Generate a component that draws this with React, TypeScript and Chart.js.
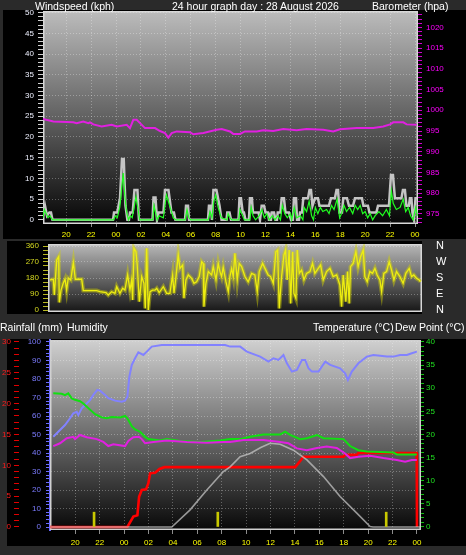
import React, { useEffect, useRef } from "react";
import { Chart, registerables } from "chart.js";

Chart.register(...registerables);

const FONT = "'Liberation Sans', Arial, sans-serif";

type Pair = [number, number];

// ---------- x axis (hours; 24 = 00:00 of the graph day, 48 = next midnight) ----------
const hourTicks = [20, 22, 24, 26, 28, 30, 32, 34, 36, 38, 40, 42, 44, 46, 48];

// ---------- top panel: wind (kph) and barometer (hpa) ----------
const gust: Pair[] = [
  [18.14, 1.0], [18.3, 3.4], [18.46, 1.0], [18.65, 1.8], [18.78, 1.8], [18.9, 0],
  [23.76, 0], [23.84, 1.8], [24.1, 1.8], [24.32, 5.2], [24.48, 14.7], [24.62, 14.7], [24.76, 3.4], [24.91, 0],
  [25.04, 0], [25.12, 1.8], [25.34, 1.8], [25.48, 7.2], [25.72, 7.2], [25.84, 0],
  [26.93, 0], [27.01, 5.4], [27.17, 5.4], [27.29, 0], [27.41, 1.8], [27.81, 1.8], [27.93, 7.2], [28.21, 7.2],
  [28.45, 1.8], [28.65, 1.8], [28.77, 0], [29.54, 0], [29.62, 3.4], [29.78, 3.4], [29.86, 0],
  [31.38, 0], [31.46, 3.4], [31.62, 3.4], [31.7, 0], [31.82, 7.2], [32.06, 7.2], [32.31, 3.4], [32.47, 0],
  [32.87, 0], [32.93, 1.8], [33.11, 1.8], [33.23, 0], [33.83, 0], [33.91, 5.2], [34.03, 5.2], [34.17, 1.8],
  [34.27, 1.8], [34.39, 0], [34.67, 0], [34.75, 5.2], [34.91, 5.2], [34.99, 1.8], [35.44, 1.8], [35.56, 0],
  [35.69, 3.4], [35.88, 3.4], [36.0, 1.8], [36.2, 1.8], [36.28, 0], [36.44, 0], [36.5, 1.8], [36.68, 1.8],
  [36.8, 0], [36.92, 0], [36.98, 1.8], [37.2, 1.8], [37.3, 5.2], [37.48, 5.2], [37.6, 1.8], [37.88, 1.8],
  [38.04, 0], [38.2, 0], [38.28, 5.2], [38.45, 5.2], [38.53, 0], [38.69, 0], [38.77, 1.8], [38.93, 1.8],
  [39.03, 5.2], [39.41, 5.2], [39.53, 7.2], [39.65, 7.2], [39.77, 3.4], [39.97, 5.2], [40.21, 5.2], [40.33, 3.4],
  [41.09, 3.4], [41.25, 5.2], [41.57, 5.2], [41.7, 7.2], [41.82, 7.2], [41.94, 1.8], [42.14, 1.8], [42.24, 5.2],
  [42.54, 5.2], [42.7, 3.4], [43.02, 3.4], [43.18, 5.2], [43.74, 5.2], [43.86, 3.4], [44.22, 3.4], [44.34, 1.8],
  [44.9, 1.8], [45.03, 3.4], [45.91, 3.4], [46.07, 10.8], [46.23, 10.8], [46.39, 5.2], [46.91, 5.2], [47.03, 7.2],
  [47.19, 7.2], [47.31, 3.4], [47.51, 3.4], [47.59, 5.2], [47.71, 5.2], [47.79, 1.8], [47.92, 0], [48.04, 5.2],
  [48.16, 5.2],
];

const windAvg: Pair[] = [
  [18.14, 0.5], [18.25, 2.5], [18.4, 1.5], [18.55, 0.5], [18.7, 1.0], [18.9, 0], [23.8, 0], [23.95, 1.0],
  [24.1, 0.5], [24.3, 3.0], [24.5, 9.0], [24.58, 11.3], [24.7, 6.0], [24.85, 2.0], [25.0, 0], [25.15, 1.0],
  [25.3, 0.5], [25.45, 3.0], [25.6, 5.6], [25.75, 3.0], [25.9, 0], [26.95, 0], [27.05, 3.5], [27.2, 1.5],
  [27.3, 0], [27.45, 1.0], [27.8, 0.5], [27.95, 4.0], [28.05, 6.0], [28.25, 4.0], [28.45, 2.0], [28.6, 0.5],
  [28.8, 0], [29.55, 0], [29.7, 2.5], [29.85, 0.5], [30.0, 0], [31.4, 0], [31.55, 2.0], [31.7, 0.5],
  [31.85, 4.5], [32.0, 6.0], [32.2, 3.0], [32.45, 0.5], [32.9, 0], [33.0, 1.5], [33.15, 0.5], [33.3, 0],
  [33.85, 0], [33.95, 2.5], [34.1, 1.5], [34.3, 0], [34.75, 0], [34.85, 3.0], [35.0, 1.0], [35.2, 0],
  [35.5, 1.0], [35.7, 2.5], [35.9, 0.5], [36.1, 1.5], [36.3, 0], [36.55, 1.0], [36.75, 0], [37.0, 1.0],
  [37.2, 0], [37.35, 3.5], [37.55, 1.5], [37.75, 0.5], [38.0, 1.5], [38.1, 0], [38.3, 3.0], [38.5, 0.5],
  [38.8, 1.0], [39.0, 0], [39.1, 3.0], [39.3, 2.0], [39.5, 4.5], [39.7, 1.0], [39.85, 0], [40.0, 3.0],
  [40.2, 1.5], [40.4, 3.0], [40.6, 2.0], [40.9, 2.5], [41.1, 1.5], [41.3, 3.5], [41.5, 2.5], [41.75, 5.0],
  [41.95, 0.5], [42.1, 1.5], [42.3, 3.5], [42.5, 2.0], [42.75, 3.0], [43.0, 1.5], [43.2, 3.5], [43.4, 2.5],
  [43.6, 3.5], [43.8, 1.5], [44.0, 2.0], [44.2, 0.5], [44.4, 1.5], [44.6, 0], [44.8, 1.0], [45.1, 2.0],
  [45.4, 1.0], [45.7, 2.5], [45.95, 1.0], [46.1, 7.0], [46.25, 4.0], [46.5, 2.5], [46.8, 3.0], [47.05, 5.0],
  [47.25, 2.0], [47.45, 3.0], [47.65, 1.0], [47.85, 0], [48.05, 3.0], [48.2, 1.0],
];

const barometer: Pair[] = [
  [18.14, 997.9], [18.97, 997.3], [20.57, 997.1], [20.84, 996.9], [21.37, 997.3], [21.78, 996.9], [21.91, 997.1],
  [22.18, 996.6], [22.85, 996.1], [23.65, 996.5], [24.06, 996.1], [24.86, 996.5], [25.12, 995.7], [25.39, 997.7],
  [25.66, 997.7], [25.93, 996.9], [26.33, 995.7], [27.13, 995.7], [27.53, 995.0], [27.93, 994.5], [28.2, 993.4],
  [28.47, 994.5], [28.87, 994.9], [29.94, 994.7], [30.2, 994.2], [31.01, 994.5], [32.08, 995.3], [32.48, 995.5],
  [33.15, 994.9], [33.41, 994.3], [33.95, 994.3], [34.35, 994.9], [35.29, 994.9], [35.82, 995.2], [36.62, 995.0],
  [37.43, 995.5], [38.5, 995.2], [39.3, 995.5], [40.64, 995.3], [41.44, 994.9], [41.98, 995.4], [43.32, 995.7],
  [44.65, 995.7], [45.45, 996.1], [46.0, 996.6], [46.26, 997.1], [47.06, 997.1], [47.33, 996.6], [48.13, 996.5],
];

// ---------- middle panel: wind direction (degrees) ----------
const direction: Pair[] = [
  [18.3, 169], [18.57, 173], [18.65, 84], [18.84, 281], [19.0, 300], [19.05, 43], [19.19, 112], [19.37, 152],
  [19.51, 174], [19.64, 112], [19.77, 180], [19.97, 169], [20.18, 266], [20.34, 173], [20.58, 173], [20.85, 173],
  [20.98, 109], [22.06, 109], [22.32, 103], [22.81, 98], [22.99, 84], [23.26, 103], [23.53, 94], [23.67, 131],
  [23.93, 94], [24.15, 122], [24.33, 112], [24.55, 197], [24.74, 112], [24.87, 169], [24.95, 56], [25.06, 347],
  [25.22, 328], [25.32, 253], [25.49, 47], [25.68, 188], [25.86, 150], [25.97, 9], [26.08, 347], [26.21, 0],
  [26.35, 103], [26.56, 112], [26.75, 112], [26.89, 122], [27.09, 98], [27.42, 131], [27.69, 94], [27.95, 94],
  [28.17, 197], [28.28, 94], [28.44, 188], [28.62, 309], [28.76, 234], [28.98, 253], [29.08, 66], [29.24, 169],
  [29.43, 197], [29.7, 178], [29.89, 150], [30.1, 159], [30.31, 188], [30.51, 272], [30.63, 262], [30.69, 19],
  [30.85, 150], [31.04, 216], [31.31, 197], [31.44, 244], [31.66, 169], [31.84, 262], [31.98, 216], [32.11, 188],
  [32.24, 240], [32.46, 159], [32.65, 103], [32.78, 188], [32.92, 234], [33.05, 188], [33.18, 319], [33.37, 169],
  [33.53, 262], [33.72, 244], [33.99, 188], [34.25, 159], [34.53, 206], [34.79, 197], [34.98, 103], [35.14, 216],
  [35.41, 262], [35.6, 234], [35.86, 197], [36.06, 188], [36.27, 150], [36.48, 328], [36.62, 337], [36.75, 9],
  [36.94, 188], [37.13, 309], [37.26, 337], [37.39, 169], [37.55, 337], [37.67, 37], [37.83, 328], [37.93, 94],
  [38.09, 66], [38.2, 337], [38.36, 206], [38.55, 225], [38.74, 169], [38.95, 206], [39.22, 216], [39.43, 262],
  [39.62, 206], [39.89, 234], [40.08, 253], [40.29, 169], [40.56, 216], [40.83, 234], [41.09, 188], [41.37, 197],
  [41.63, 141], [41.77, 19], [41.9, 197], [42.11, 47], [42.25, 216], [42.38, 37], [42.49, 244], [42.7, 262],
  [42.92, 328], [43.1, 244], [43.3, 300], [43.51, 337], [43.64, 188], [43.83, 159], [44.04, 216], [44.26, 206],
  [44.45, 234], [44.63, 197], [44.85, 169], [44.99, 103], [45.17, 206], [45.39, 216], [45.6, 272], [45.79, 225],
  [45.98, 169], [46.19, 216], [46.46, 188], [46.72, 150], [46.94, 206], [47.21, 234], [47.4, 188], [47.58, 197],
  [47.8, 178], [48.01, 169], [48.12, 159],
];
const compassLabels = ["N", "E", "S", "W", "N"];

// ---------- bottom panel ----------
const humidity: Pair[] = [
  [18.2, 48.8], [18.75, 52.4], [19.16, 55.1], [19.57, 58.8], [19.84, 61.5], [20.12, 62.3], [20.25, 60.5],
  [20.53, 64.2], [20.8, 65.9], [21.21, 68.6], [21.48, 71.4], [21.81, 74.1], [22.03, 73.7], [22.44, 71.4],
  [22.71, 69.6], [23.26, 68.3], [23.81, 67.7], [24.08, 68.3], [24.27, 70.4], [24.43, 81.2], [24.63, 87.6],
  [24.9, 91.2], [25.17, 94.4], [25.58, 93.0], [25.86, 94.8], [26.27, 97.5], [27.09, 98.4], [28.04, 98.4],
  [30.78, 98.4], [32.28, 98.4], [32.69, 97.5], [33.51, 97.5], [34.06, 94.8], [35.15, 92.1], [35.83, 89.4],
  [36.24, 91.2], [36.65, 90.3], [37.06, 93.0], [37.34, 88.5], [37.75, 84.0], [38.16, 84.9], [38.57, 90.3],
  [38.84, 90.3], [39.11, 85.8], [39.39, 84.0], [39.93, 84.0], [40.48, 89.4], [40.89, 87.6], [41.7, 85.8],
  [42.11, 83.1], [42.34, 79.5], [42.66, 84.0], [43.2, 88.5], [43.89, 92.1], [44.43, 93.0], [45.53, 92.1],
  [46.07, 92.1], [46.62, 93.0], [47.17, 93.0], [47.58, 93.9], [47.99, 94.8],
];

const temperature: Pair[] = [
  [18.2, 28.9], [18.89, 28.8], [19.16, 28.5], [19.43, 28.9], [19.71, 27.8], [19.98, 27.5], [20.39, 27.2],
  [20.66, 26.7], [21.07, 25.7], [21.62, 24.4], [22.17, 23.7], [22.58, 23.5], [22.99, 23.8], [23.67, 23.7],
  [24.08, 24.0], [24.27, 23.5], [24.63, 21.8], [24.9, 21.1], [25.31, 20.6], [25.72, 19.5], [25.99, 19.0],
  [26.95, 18.7], [27.5, 19.0], [28.59, 18.6], [30.23, 18.4], [31.87, 18.7], [32.69, 19.0], [33.51, 19.0],
  [34.33, 19.5], [35.42, 20.0], [36.79, 20.0], [37.2, 20.6], [37.61, 19.9], [38.43, 19.0], [38.98, 19.2],
  [39.8, 19.9], [40.34, 19.2], [41.98, 19.0], [42.52, 17.5], [43.2, 16.6], [43.89, 16.3], [46.07, 16.1],
  [46.35, 15.7], [47.99, 15.7],
];

const dewPoint: Pair[] = [
  [18.2, 17.5], [18.75, 18.1], [19.3, 19.2], [19.84, 19.5], [19.98, 19.0], [20.39, 19.9], [20.94, 19.4],
  [21.76, 19.0], [22.3, 18.4], [22.71, 17.5], [23.12, 17.9], [24.08, 17.5], [24.35, 18.6], [24.76, 19.4],
  [25.23, 19.5], [25.45, 19.0], [25.72, 18.1], [26.4, 18.4], [27.5, 18.7], [29.14, 18.4], [30.78, 18.2],
  [32.14, 18.4], [32.69, 18.4], [33.78, 18.8], [35.42, 18.8], [36.79, 18.4], [37.47, 18.1], [38.16, 17.0],
  [38.98, 16.6], [39.8, 17.1], [40.61, 17.4], [41.43, 17.1], [42.11, 15.9], [42.52, 14.9], [43.2, 15.2],
  [44.16, 15.4], [45.25, 14.9], [46.35, 14.5], [47.03, 14.1], [47.58, 14.5], [47.99, 14.5],
];

const solar: Pair[] = [
  [17.93, 0], [27.91, 0], [29.41, 3.7], [30.78, 8.0], [32.14, 12.0], [32.69, 13.0], [33.51, 15.2],
  [34.33, 15.9], [35.2, 17.2], [35.97, 18.1], [36.79, 17.9], [37.88, 16.6], [38.98, 14.5], [40.34, 10.9],
  [41.7, 6.6], [43.07, 3.0], [44.16, 0.1], [44.4, 0], [48.33, 0],
];

const rainfall: Pair[] = [
  [17.93, 0], [24.27, 0], [24.76, 1.7], [25.09, 1.9], [25.23, 4.9], [25.45, 6.0], [25.8, 6.1], [25.99, 7.1],
  [26.13, 8.7], [26.54, 8.8], [26.9, 9.4], [27.3, 9.7], [38.02, 9.7], [38.43, 10.7], [38.7, 11.4],
  [41.98, 11.4], [42.11, 11.7], [43.07, 11.7], [43.2, 12.0], [47.98, 12.0], [48.0, 0],
];

const rainMarks: Pair[] = [[21.54, 2.4], [31.68, 2.4], [45.48, 2.4]];

// ---------- helpers ----------
const pts = (a: Pair[]) => a.map(([x, y]) => ({ x, y }));
const hourLabel = (v: number) => String(Math.round(v) % 24).padStart(2, "0");
const tickList = (from: number, to: number, step: number) => {
  const out: { value: number }[] = [];
  for (let v = from; v <= to + 1e-9; v += step) out.push({ value: Math.round(v * 100) / 100 });
  return out;
};
const tickFont = { family: FONT, size: 8 };
const GRID = "rgba(255,255,255,0.3)";
const DASH = [1, 2];

function panelPlugin(top: string, bottom: string, frame: string) {
  return {
    id: "panelBg",
    beforeDraw(chart: any) {
      const { ctx, chartArea: a } = chart;
      const g = ctx.createLinearGradient(0, a.top, 0, a.bottom);
      g.addColorStop(0, top);
      g.addColorStop(1, bottom);
      ctx.save();
      ctx.fillStyle = g;
      ctx.fillRect(a.left, a.top, a.right - a.left, a.bottom - a.top);
      ctx.restore();
    },
    beforeDatasetsDraw(chart: any) {
      const { ctx, chartArea: a } = chart;
      ctx.save();
      ctx.strokeStyle = frame;
      ctx.lineWidth = 1.5;
      ctx.strokeRect(a.left + 0.75, a.top + 0.75, a.right - a.left - 1.5, a.bottom - a.top - 1.5);
      ctx.restore();
    },
  };
}

function xAxis(min: number, max: number, height: number, padding: number, tickLength: number, display = true) {
  return {
    type: "linear",
    display,
    min,
    max,
    offset: false,
    bounds: "data",
    afterBuildTicks: (s: any) => {
      s.ticks = hourTicks.map((v) => ({ value: v }));
    },
    afterFit: (s: any) => {
      s.height = height;
    },
    ticks: { autoSkip: false, maxRotation: 0, color: "#ffff00", font: tickFont, padding, callback: (v: any) => hourLabel(Number(v)) },
    grid: { offset: false, color: GRID, tickColor: "#8c8c8c", tickLength, tickBorderDash: [] },
    border: { display: false, dash: DASH },
  };
}

function yAxis(o: {
  position: string; min: number; max: number; from: number; to: number; step: number; major: number;
  width: number; color: string; tickColor: string; tickLength: number; padding: number; onChart: boolean;
  fontSize?: number; label?: (v: number) => string; border?: any;
}) {
  return {
    type: "linear",
    position: o.position,
    min: o.min,
    max: o.max,
    bounds: "data",
    beginAtZero: false,
    afterBuildTicks: (s: any) => {
      s.ticks = tickList(o.from, o.to, o.step);
    },
    afterFit: (s: any) => {
      s.width = o.width;
    },
    ticks: {
      autoSkip: false,
      color: o.color,
      font: { family: FONT, size: o.fontSize || 8 },
      padding: o.padding,
      callback: (v: any) => {
        const n = Number(v);
        if (Math.abs(n / o.major - Math.round(n / o.major)) > 1e-6) return "";
        return o.label ? o.label(n) : String(n);
      },
    },
    grid: {
      drawOnChartArea: o.onChart,
      color: (ctx: any) => {
        const v = ctx.tick ? ctx.tick.value : NaN;
        return Math.abs(v / o.major - Math.round(v / o.major)) < 1e-6 && v > o.from ? GRID : "rgba(0,0,0,0)";
      },
      tickColor: o.tickColor,
      tickLength: o.tickLength,
      tickBorderDash: [],
    },
    border: o.border || { display: false, dash: DASH },
  };
}

const lineDs = (label: string, data: Pair[], color: string, width: number, axis: string, order: number) => ({
  type: "line",
  label,
  data: pts(data),
  borderColor: color,
  backgroundColor: color,
  borderWidth: width,
  pointRadius: 0,
  tension: 0,
  fill: false,
  yAxisID: axis,
  order,
});

const baseOptions = (padTop: number, padBottom: number) => ({
  responsive: false,
  animation: false,
  events: [],
  layout: { padding: { top: padTop, left: 0, right: 0, bottom: padBottom } },
  plugins: { legend: { display: false }, tooltip: { enabled: false }, title: { display: false } },
});

function topConfig(): any {
  return {
    type: "line",
    data: {
      datasets: [
        lineDs("Wind gust", gust, "#c4c4c4", 2.5, "y", 3),
        lineDs("Wind speed", windAvg, "#20ff20", 1.2, "y", 2),
        lineDs("Barometer", barometer, "#e020e0", 2, "yB", 1),
      ],
    },
    options: {
      ...baseOptions(11, 0),
      scales: {
        x: xAxis(18.14, 48.24, 18, 3, 3),
        y: yAxis({ position: "left", min: -1, max: 50.4, from: 0, to: 50, step: 1, major: 5, width: 43, color: "#eef0ff", tickColor: "#d0d0d0", tickLength: 5, padding: 4, onChart: true }),
        yB: yAxis({ position: "right", min: 972.56, max: 1023.96, from: 973, to: 1023, step: 1, major: 5, width: 48, color: "#ff00ff", tickColor: "#d000d0", tickLength: 4, padding: 4, onChart: false }),
      },
    },
    plugins: [panelPlugin("#bcbcbc", "#060606", "#d8d8d8")],
  };
}

function midConfig(): any {
  return {
    type: "line",
    data: {
      datasets: [
        lineDs("Direction band", direction, "rgba(210,210,0,0.45)", 4, "y", 2),
        lineDs("Wind direction", direction, "#eeee10", 1.3, "y", 1),
      ],
    },
    options: {
      ...baseOptions(9, 9),
      scales: {
        x: xAxis(18.14, 48.24, 0, 0, 0, false),
        y: yAxis({ position: "left", min: -11.25, max: 371.25, from: 0, to: 360, step: 22.5, major: 90, width: 48, color: "#d4d820", tickColor: "#b8b820", tickLength: 5, padding: 4, onChart: true }),
        yC: yAxis({ position: "right", min: -11.25, max: 371.25, from: 0, to: 360, step: 90, major: 90, width: 44, color: "#ffffff", tickColor: "rgba(0,0,0,0)", tickLength: 12, padding: 2, onChart: false, fontSize: 11, label: (v) => compassLabels[Math.round(v / 90)] }),
      },
    },
    plugins: [panelPlugin("#b8b8b8", "#161616", "#d8d8d8")],
  };
}

function bottomConfig(): any {
  return {
    type: "line",
    data: {
      datasets: [
        { type: "bar", label: "Rain rate", data: pts(rainMarks), backgroundColor: "#c8c800", barThickness: 2, yAxisID: "yR", order: 0 },
        lineDs("Dew point", dewPoint, "#e020e0", 2, "yT", 1),
        lineDs("Temperature", temperature, "#10e010", 2, "yT", 2),
        lineDs("Humidity", humidity, "#8282ff", 2, "yH", 3),
        lineDs("Solar", solar, "rgba(205,205,205,0.7)", 1.6, "yT", 4),
        lineDs("Rainfall", rainfall, "#ff0000", 2.6, "yR", 5),
      ],
    },
    options: {
      ...baseOptions(10, 0),
      scales: {
        x: xAxis(17.93, 48.33, 20, 4, 4),
        yH: yAxis({ position: "left", min: -1.62, max: 101.08, from: 0, to: 100, step: 2, major: 10, width: 31, color: "#7c7cff", tickColor: "#6c6cff", tickLength: 4, padding: 5, onChart: true, border: { display: true, color: "#6c6cff", width: 2, dash: DASH } }),
        yR: yAxis({ position: "left", min: -0.49, max: 30.32, from: 0, to: 30, step: 1, major: 5, width: 19, color: "#ff1c1c", tickColor: "#e00000", tickLength: 5, padding: 3, onChart: false }),
        yT: yAxis({ position: "right", min: -0.65, max: 40.43, from: 0, to: 40, step: 1, major: 5, width: 45, color: "#20e020", tickColor: "#10c010", tickLength: 3, padding: 2, onChart: false }),
      },
    },
    plugins: [panelPlugin("#d0d0d0", "#080808", "#d0d0d0")],
  };
}

const textStyle = (left: number, top: number): React.CSSProperties => ({
  position: "absolute",
  left,
  top,
  color: "#ffffff",
  fontFamily: FONT,
  fontSize: "10.5px",
  lineHeight: "12px",
  whiteSpace: "nowrap",
});

export default function App() {
  const topRef = useRef<HTMLCanvasElement>(null);
  const midRef = useRef<HTMLCanvasElement>(null);
  const botRef = useRef<HTMLCanvasElement>(null);

  useEffect(() => {
    const charts = [
      new Chart(topRef.current as HTMLCanvasElement, topConfig()),
      new Chart(midRef.current as HTMLCanvasElement, midConfig()),
      new Chart(botRef.current as HTMLCanvasElement, bottomConfig()),
    ];
    return () => charts.forEach((c) => c.destroy());
  }, []);

  return (
    <div style={{ position: "fixed", left: 0, top: 0, width: 466, height: 555, background: "#2a2a2a", overflow: "hidden" }}>
      <div style={{ position: "absolute", left: 3, top: 10, width: 463, height: 229, background: "#000" }} />
      <div style={{ position: "absolute", left: 7, top: 241, width: 415, height: 73, background: "#000" }} />
      <div style={{ position: "absolute", left: 7, top: 339, width: 459, height: 207, background: "#000" }} />
      <canvas ref={topRef} width={466} height={242} style={{ position: "absolute", left: 0, top: 0 }} />
      <canvas ref={midRef} width={466} height={86} style={{ position: "absolute", left: 0, top: 235 }} />
      <canvas ref={botRef} width={466} height={220} style={{ position: "absolute", left: 0, top: 330 }} />
      <div style={textStyle(35, 0)}>Windspeed (kph)</div>
      <div style={textStyle(172, 0)}>24 hour graph day : 28 August 2026</div>
      <div style={textStyle(372, 0)}>Barometer (hpa)</div>
      <div style={textStyle(0, 321)}>Rainfall (mm)</div>
      <div style={textStyle(67, 321)}>Humidity</div>
      <div style={textStyle(313, 321)}>Temperature (°C)</div>
      <div style={textStyle(395, 321)}>Dew Point (°C)</div>
    </div>
  );
}
